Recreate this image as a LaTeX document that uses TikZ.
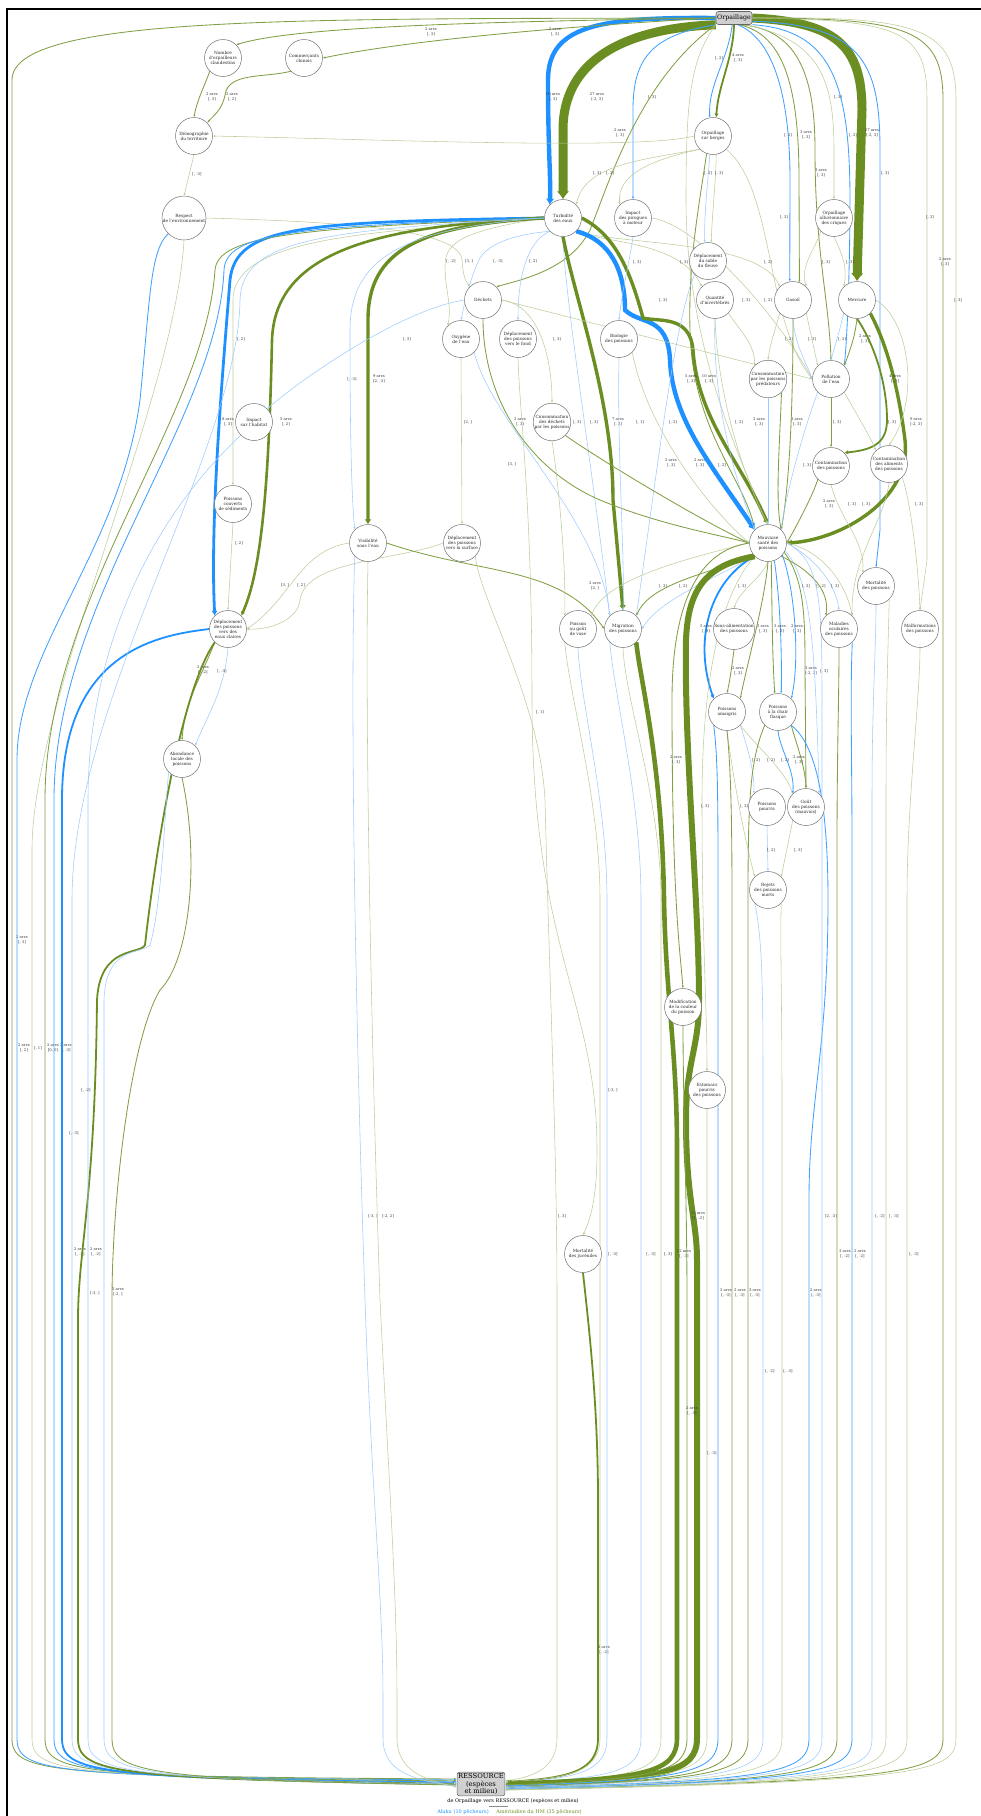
\documentclass[tikz,border=0pt]{standalone}
\usepackage{fontspec}
\setmainfont{DejaVu Serif}
\usetikzlibrary{arrows.meta,calc}
\definecolor{amaD}{HTML}{6B8E23}
\definecolor{amaL}{HTML}{BDCC9B}
\definecolor{aluD}{HTML}{1E90FF}
\definecolor{aluL}{HTML}{9CCBFF}
\definecolor{hubGray}{HTML}{D0D0D0}
\pgfdeclarelayer{edges}
\pgfsetlayers{edges,main}
\tikzset{
 fac/.style={circle,draw=black!55,fill=white,line width=.5pt,inner sep=0pt,minimum size=37pt,align=center,text=black!85,font=\fontsize{4.3}{5}\selectfont},
 hub/.style={rectangle,rounded corners=2.5pt,draw=black!60,fill=hubGray,line width=.6pt,align=center},
 elab/.style={font=\fontsize{3.8}{4.5}\selectfont,align=center,inner sep=.4pt,text=black!80},
 captext/.style={font=\fontsize{5}{6}\selectfont,inner sep=0pt},
 tipS/.style={-{Latex[length=2.6pt,width=2.2pt]}},
 a1/.style={draw=amaL,line width=.55pt,tipS},
 a2/.style={draw=amaD!85,line width=.85pt,tipS},
 a4/.style={draw=amaD,line width=1.8pt,-{Latex[length=4pt,width=4.5pt]}},
 a5/.style={a4,line width=2.6pt},
 a8/.style={draw=amaD,line width=3.4pt,-{Latex[length=5pt,width=7pt]}},
 a12/.style={draw=amaD,line width=4.6pt,-{Latex[length=6pt,width=9pt]}},
 a15/.style={draw=amaD,line width=6pt,-{Latex[length=7pt,width=10pt]}},
 a27/.style={draw=amaD,line width=9pt,-{Latex[length=8pt,width=13pt]}},
 b1/.style={draw=aluL,line width=.55pt,tipS},
 b2/.style={draw=aluD!85,line width=.85pt,tipS},
 b4/.style={draw=aluD,line width=1.8pt,-{Latex[length=4pt,width=4.5pt]}},
 b8/.style={draw=aluD,line width=2.8pt,-{Latex[length=5pt,width=6pt]}},
 b10/.style={draw=aluD,line width=4.4pt,-{Latex[length=6pt,width=8.5pt]}},
 frame/.style={draw=black,line width=1.5pt}
}
\newcommand{\arcs}[2]{#1 arcs\\\relax#2}
\newcommand{\dropL}[5]{\draw[#1] #2 -- (#3,1738) .. controls (#3,1772) and ($(#3,1779)+(30,#4/2)$) .. ($(ress.west)+(0,#4)$) #5;}
\newcommand{\dropR}[5]{\draw[#1] #2 -- (#3,1738) .. controls (#3,1772) and ($(#3,1779)+(-30,#4/2)$) .. ($(ress.east)+(0,#4)$) #5;}

\begin{document}
\begin{tikzpicture}[x=1pt,y=-1pt]
 \useasboundingbox (0,0) rectangle (981,1816);
 \draw[frame] (7,1816) -- (7,9) -- (981,9);

 \node[hub,font=\fontsize{6.3}{7}\selectfont,minimum width=36pt,minimum height=13pt,inner sep=.5pt] (orp) at (734,18) {Orpaillage};
 \node[hub,font=\fontsize{6.8}{7.8}\selectfont,inner sep=1pt] (ress) at (481,1784) {RESSOURCE\\(espèces\\et milieu)};
 \node[fac] (nbr) at (223,58) {Nombre\\d'orpailleurs\\clandestins};
 \node[fac] (com) at (304,58) {Commerçants\\chinois};
 \node[fac] (dem) at (194,136) {Démographie\\du territoire};
 \node[fac,minimum size=44pt] (resp) at (184,218) {Respect\\de l'environnement};
 \node[fac] (berg) at (713,136) {Orpaillage\\sur berges};
 \node[fac] (turb) at (563,218) {Turbidité\\des eaux};
 \node[fac] (pir) at (633,218) {Impact\\des pirogues\\à moteur};
 \node[fac] (allu) at (834,218) {Orpaillage\\alluvionnaire\\des criques};
 \node[fac] (sable) at (708,261) {Déplacement\\du sable\\du fleuve};
 \node[fac] (dech) at (483,300) {Déchets};
 \node[fac] (inv) at (715,300) {Quantité\\d'invertébrés};
 \node[fac] (gas) at (793,300) {Gasoil};
 \node[fac] (merc) at (857,300) {Mercure};
 \node[fac] (oxy) at (461,339) {Oxygène\\de l'eau};
 \node[fac] (fond) at (518,339) {Déplacement\\des poissons\\vers le fond};
 \node[fac] (bio) at (619,339) {Biologie\\des poissons};
 \node[fac] (pred) at (768,379) {Consommation\\par les poissons\\prédateurs};
 \node[fac] (poll) at (831,379) {Pollution\\de l'eau};
 \node[fac] (hab) at (254,422) {Impact\\sur l'habitat};
 \node[fac] (cdech) at (552,422) {Consommation\\des déchets\\par les poissons};
 \node[fac] (contp) at (831,466) {Contamination\\des poissons};
 \node[fac] (conta) at (889,464) {Contamination\\des aliments\\des poissons};
 \node[fac] (sedi) at (233,504) {Poissons\\couverts\\de sédiments};
 \node[fac] (visi) at (368,543) {Visibilité\\sous l'eau};
 \node[fac] (surf) at (462,543) {Déplacement\\des poissons\\vers la surface};
 \node[fac] (sante) at (768,543) {Mauvaise\\santé des\\poissons};
 \node[fac] (mortp) at (876,586) {Mortalité\\des poissons};
 \node[fac] (claires) at (228,629) {Déplacement\\des poissons\\vers des\\eaux claires};
 \node[fac] (vase) at (578,629) {Poisson\\au goût\\de vase};
 \node[fac] (migr) at (623,629) {Migration\\des poissons};
 \node[fac,minimum size=41pt] (sous) at (734,629) {Sous-alimentation\\des poissons};
 \node[fac] (ocul) at (839,629) {Maladies\\oculaires\\des poissons};
 \node[fac] (malf) at (920,629) {Malformations\\des poissons};
 \node[fac] (amaig) at (727,712) {Poissons\\amaigris};
 \node[fac] (flasq) at (778,712) {Poissons\\à la chair\\flasque};
 \node[fac] (abond) at (182,759) {Abondance\\locale des\\poissons};
 \node[fac] (pourr) at (767,807) {Poissons\\pourris};
 \node[fac] (gout) at (806,807) {Goût\\des poissons\\(mauvais)};
 \node[fac] (rejet) at (768,890) {Rejets\\des poissons\\morts};
 \node[fac] (coul) at (683,1007) {Modification\\de la couleur\\du poisson};
 \node[fac] (estom) at (707,1090) {Estomacs\\pourris\\des poissons};
 \node[fac] (juv) at (583,1254) {Mortalité\\des juvéniles};

 \begin{pgfonlayer}{edges}
 \draw[a27] (orp.south west) .. controls (625,28) and (563,60) .. (563,130) -- (turb.north) node[elab] at (597,97) {\arcs{27}{[-2, 3]}};
 \draw[b10] (orp.west) .. controls (600,17) and (548,25) .. (548,80) .. controls (548,150) and (551,180) .. (turb.north west) node[elab] at (553,97) {\arcs{10}{[, 3]}};
 \draw[a27] (orp.east) .. controls (835,22) and (862,45) .. (862,110) -- (merc.north) node[elab] at (872,133) {\arcs{27}{[-2, 3]}};
 \draw[a2] (orp.west) .. controls (450,22) and (290,28) .. (nbr.north east) node[elab] at (431,32) {\arcs{2}{[, 3]}};
 \draw[a2] (orp.west) .. controls (600,24) and (420,38) .. (com.east) node[elab] at (555,32) {\arcs{2}{[, 3]}};
 \dropL{a2}{(orp.west) .. controls (300,19) and (12,15) .. (12,80)}{12}{-5}{node[elab] at (22,940) {\arcs{2}{[, 3]}}}
 \draw[b2] (orp.255) .. controls (728,60) and (708,85) .. (berg.100) node[elab] at (719,58) {[, 2]};
 \draw[a4] (orp.south) .. controls (733,60) and (718,85) .. (berg.80) node[elab] at (738,58) {\arcs{4}{[, 3]}};
 \draw[b2] (orp.south west) .. controls (650,35) and (633,60) .. (633,110) -- (pir.north) node[elab] at (652,97) {[, 3]};
 \draw[a2] (orp.south west) .. controls (640,80) and (610,180) .. (590,230) .. controls (570,270) and (520,280) .. (dech.north east) node[elab] at (620,133) {\arcs{2}{[, 3]}};
 \draw[a1] (orp.south west) .. controls (690,60) and (686,100) .. (686,200) .. controls (686,350) and (745,470) .. (sante.north);
 \draw[b2] (orp.-60) .. controls (775,40) and (790,100) .. (790,180) -- (gas.100) node[elab] at (788,135) {[, 2]};
 \draw[a2] (orp.-50) .. controls (785,35) and (799,90) .. (799,180) -- (gas.70) node[elab] at (806,135) {\arcs{3}{[, 3]}};
 \draw[a2] (orp.-40) .. controls (800,30) and (815,80) .. (815,150) .. controls (815,250) and (829,300) .. (poll.north) node[elab] at (821,173) {\arcs{3}{[, 3]}};
 \draw[a1] (orp.-30) .. controls (820,40) and (834,80) .. (834,150) -- (allu.north) node[elab] at (838,97) {[, 3]};
 \draw[b2] (orp.-20) .. controls (830,30) and (850,80) .. (850,200) .. controls (850,250) and (848,330) .. (poll.north east) node[elab] at (853,135) {[, 2]};
 \draw[b2] (orp.-10) .. controls (860,25) and (880,60) .. (880,150) -- (880,530) -- (mortp.north) node[elab] at (885,173) {[, 3]};
 \draw[a1] (orp.east) .. controls (900,20) and (927,30) .. (927,100) -- (927,560) -- (malf.north) node[elab] at (930,217) {[, 2]};
 \dropR{a2}{(orp.east) .. controls (910,18) and (943,30) .. (943,100)}{943}{5}{node[elab] at (945,262) {\arcs{2}{[, 3]}}}
 \dropR{a1}{(orp.east) .. controls (920,16) and (956,28) .. (956,100)}{956}{6}{node[elab] at (958,300) {[, 3]}}

 \draw[a2] (nbr.south west) .. controls (205,85) and (197,100) .. (dem.north) node[elab] at (212,97) {\arcs{2}{[, 3]}};
 \draw[a2] (com.south west) .. controls (265,78) and (228,72) .. (225,95) .. controls (222,110) and (214,115) .. (dem.north east) node[elab] at (232,97) {\arcs{2}{[, 2]}};
 \draw[a1] (dem.south) -- (resp.north) node[elab] at (197,174) {[, -3]};
 \draw[a1] (berg.west) .. controls (640,150) and (400,140) .. (dem.east);
 \draw[a1] (resp.east) .. controls (350,222) and (460,230) .. (462,260) .. controls (463,275) and (465,280) .. (dech.north west) node[elab] at (469,261) {[3, ]};

 \draw[a1] (berg.south west) .. controls (640,160) and (585,165) .. (turb.north east) node[elab] at (597,173) {[, 3]};
 \draw[a1] (berg.south west) .. controls (650,160) and (617,175) .. (pir.north west) node[elab] at (610,173) {[, 2]};
 \draw[b1] (berg.-100) .. controls (708,180) and (704,215) .. (sable.100) node[elab] at (708,173) {[, 2]};
 \draw[a1] (berg.-80) .. controls (716,180) and (712,215) .. (sable.80) node[elab] at (719,173) {[, 3]};
 \draw[a1] (berg.south east) .. controls (775,190) and (765,320) .. (poll.west) node[elab] at (784,217) {[, 3]};
 \draw[a2] (berg.-110) .. controls (700,200) and (688,260) .. (690,330) .. controls (692,430) and (745,480) .. (sante.north west) node[elab] at (700,463) {\arcs{2}{[, 3]}};

 \draw[a1] (turb.west) .. controls (470,230) and (445,240) .. (445,265) .. controls (445,290) and (452,305) .. (oxy.north west) node[elab] at (451,261) {[, -2]};
 \draw[b1] (turb.south west) .. controls (510,235) and (485,245) .. (478,262) .. controls (470,280) and (465,300) .. (oxy.north) node[elab] at (498,261) {[, -3]};
 \draw[b1] (turb.south west) .. controls (530,240) and (518,270) .. (fond.north) node[elab] at (533,261) {[, 2]};
 \draw[a1] (turb.west) .. controls (400,232) and (233,232) .. (233,300) -- (sedi.north) node[elab] at (241,339) {[, 2]};
 \draw[b8] (turb.west) .. controls (300,222) and (236,226) .. (230,280) .. controls (222,380) and (210,520) .. (claires.north west) node[elab] at (228,422) {\arcs{8}{[, 3]}};
 \draw[a5] (turb.west) .. controls (380,226) and (275,250) .. (272,340) .. controls (269,480) and (262,570) .. (claires.north east) node[elab] at (286,422) {\arcs{5}{[, 2]}};
 \draw[a8] (turb.west) .. controls (420,225) and (368,250) .. (368,320) -- (visi.north) node[elab] at (379,379) {\arcs{9}{[2, -3]}};
 \draw[b1] (turb.west) .. controls (400,228) and (350,260) .. (350,330) .. controls (350,450) and (352,500) .. (visi.north west) node[elab] at (352,379) {[, -3]};
 \draw[a1] (turb.south east) .. controls (600,243) and (680,240) .. (inv.north west) node[elab] at (684,262) {[, 3]};
 \draw[a1] (turb.south east) .. controls (620,245) and (760,240) .. (gas.north west) node[elab] at (768,262) {[, 2]};
 \draw[b1] (turb.south) .. controls (565,300) and (590,450) .. (migr.north west) node[elab] at (577,422) {[, 3]};
 \draw[a8] (turb.south) .. controls (575,300) and (613,400) .. (613,500) -- (migr.north) node[elab] at (618,422) {\arcs{7}{[, 3]}};
 \draw[b10] (turb.south east) .. controls (610,240) and (625,270) .. (625,310) .. controls (640,325) and (668,315) .. (670,360) .. controls (672,420) and (715,470) .. (sante.north west) node[elab] at (709,379) {\arcs{10}{[, 3]}};
 \draw[a8] (turb.east) .. controls (615,235) and (630,270) .. (643,318) .. controls (660,322) and (690,315) .. (693,350) .. controls (698,420) and (740,460) .. (sante.north) node[elab] at (691,379) {\arcs{5}{[, 3]}};

 \draw[b1] (dech.west) .. controls (400,310) and (300,380) .. (hab.north east) node[elab] at (407,339) {[, 3]};
 \draw[a1] (dech.east) .. controls (540,305) and (552,360) .. (cdech.north) node[elab] at (557,339) {[, 3]};
 \draw[a2] (dech.south) .. controls (483,400) and (530,470) .. (600,500) .. controls (660,525) and (720,535) .. (sante.west) node[elab] at (520,422) {\arcs{2}{[, 3]}};
 \draw[a1] (dech.east) -- (poll.west);
 \draw[b1] (pir.south) .. controls (630,260) and (622,290) .. (bio.north) node[elab] at (637,262) {[, 3]};
 \draw[a1] (pir.east) .. controls (700,225) and (780,320) .. (poll.west);
 \draw[b1] (sable.south west) .. controls (675,320) and (660,450) .. (migr.north east) node[elab] at (663,300) {[, 3]};
 \draw[a1] (allu.south west) .. controls (815,250) and (800,265) .. (gas.north east) node[elab] at (826,262) {[, 3]};
 \draw[a1] (allu.south) .. controls (840,250) and (848,265) .. (merc.north west) node[elab] at (850,262) {[, 3]};

 \draw[a1] (inv.south east) .. controls (740,330) and (755,345) .. (pred.north west) node[elab] at (746,300) {[, 3]};
 \draw[a1] (gas.south west) .. controls (775,330) and (770,345) .. (pred.north) node[elab] at (768,300) {[, 2]};
 \draw[a1] (gas.south east) -- (poll.north west) node[elab] at (812,339) {[, 3]};
 \draw[b1] (gas.south) .. controls (795,345) and (805,360) .. (poll.west) node[elab] at (789,339) {[, 2]};
 \draw[a2] (gas.south) .. controls (793,400) and (790,480) .. (sante.north east) node[elab] at (797,422) {\arcs{3}{[, 3]}};
 \draw[a2] (merc.south) .. controls (855,335) and (852,345) .. (poll.north east) node[elab] at (865,339) {\arcs{2}{[, 3]}};
 \draw[b1] (merc.south west) .. controls (840,330) and (835,345) .. (poll.north) node[elab] at (842,339) {[, 2]};
 \draw[a8] (merc.south east) .. controls (890,350) and (900,400) .. (905,440) .. controls (912,500) and (840,540) .. (sante.east) node[elab] at (916,422) {\arcs{9}{[-2, 3]}};
 \draw[a4] (merc.south) .. controls (872,340) and (887,380) .. (887,420) .. controls (887,445) and (870,450) .. (contp.north east) node[elab] at (895,379) {\arcs{4}{[, 3]}};
 \draw[a1] (merc.east) .. controls (910,320) and (920,400) .. (conta.north);
 \draw[a2] (poll.south) -- (contp.north) node[elab] at (837,422) {[, 3]};
 \draw[a1] (poll.south east) .. controls (860,420) and (872,440) .. (conta.north west) node[elab] at (892,422) {[, 3]};
 \draw[b1] (poll.south west) .. controls (800,440) and (785,500) .. (sante.north east) node[elab] at (807,465) {[, 3]};
 \draw[a2] (contp.south west) .. controls (815,490) and (800,520) .. (sante.east) node[elab] at (829,504) {\arcs{2}{[, 3]}};
 \draw[a1] (contp.south) .. controls (840,520) and (865,540) .. (mortp.north west) node[elab] at (852,504) {[, 3]};
 \draw[a1] (conta.south east) .. controls (910,500) and (918,560) .. (malf.north) node[elab] at (919,504) {[, 3]};
 \draw[a1] (conta.south) .. controls (885,520) and (850,560) .. (ocul.north east) node[elab] at (866,504) {[, 3]};

 \draw[a1] (oxy.south) -- (surf.north) node[elab] at (468,422) {[2, ]};
 \draw[b1] (oxy.south east) .. controls (490,420) and (600,520) .. (migr.north west) node[elab] at (512,464) {[3, ]};
 \draw[a1] (sedi.south) -- (claires.north) node[elab] at (239,543) {[, 2]};
 \draw[a1] (visi.west) .. controls (300,550) and (290,600) .. (claires.east) node[elab] at (285,585) {[3, ]};
 \draw[a1] (surf.west) .. controls (400,560) and (305,560) .. (300,600) .. controls (298,620) and (270,630) .. (claires.east) node[elab] at (301,585) {[, 2]};
 \draw[a2] (visi.east) .. controls (480,575) and (560,565) .. (migr.west) node[elab] at (595,586) {\arcs{2}{[2, ]}};
 \draw[a1] (cdech.south) .. controls (558,480) and (566,560) .. (vase.north west);
 \draw[a2] (cdech.south east) .. controls (600,460) and (700,520) .. (sante.west) node[elab] at (671,463) {\arcs{2}{[, 3]}};
 \draw[a1] (bio.south east) .. controls (645,420) and (700,500) .. (sante.west) node[elab] at (640,422) {[, 1]};
 \draw[b1] (bio.south) .. controls (617,450) and (625,560) .. (migr.north) node[elab] at (594,422) {[, 3]};
 \draw[b1] (inv.south) .. controls (712,400) and (735,480) .. (sante.north west) node[elab] at (673,422) {[, 2]};
 \draw[a1] (inv.south) .. controls (718,400) and (745,480) .. (sante.north) node[elab] at (722,465) {[, 2]};
 \draw[b1] (pred.south) -- (sante.north) node[elab] at (739,422) {[, 2]};
 \draw[a2] (pred.south east) .. controls (780,440) and (775,500) .. (sante.north east) node[elab] at (759,422) {\arcs{2}{[, 3]}};
 \draw[a1] (fond.south) .. controls (520,420) and (532,500) .. (532,700) .. controls (532,950) and (597,1000) .. (597,1150) .. controls (597,1200) and (590,1220) .. (juv.north) node[elab] at (540,712) {[, 1]};

 \draw[a1] (sante.west) .. controls (680,560) and (605,580) .. (vase.north east);
 \draw[a2] (sante.south west) .. controls (700,575) and (650,585) .. (migr.north east) node[elab] at (663,586) {[, 3]};
 \draw[b1] (sante.south west) .. controls (710,580) and (660,600) .. (migr.east) node[elab] at (683,586) {[, 2]};
 \draw[a1] (sante.south) .. controls (760,580) and (740,590) .. (sous.north) node[elab] at (742,586) {[, 3]};
 \draw[b4] (sante.south west) .. controls (710,580) and (693,640) .. (amaig.north west) node[elab] at (706,629) {\arcs{2}{[, 3]}};
 \draw[a2] (sante.south) .. controls (765,600) and (748,660) .. (amaig.north east);
 \draw[a2] (sante.-80) .. controls (772,600) and (772,650) .. (flasq.100) node[elab] at (763,629) {\arcs{3}{[, 3]}};
 \draw[b2] (sante.-70) .. controls (780,600) and (782,650) .. (flasq.80) node[elab] at (780,629) {\arcs{3}{[, 3]}};
 \draw[b2] (sante.-40) .. controls (795,590) and (800,660) .. (flasq.north east) node[elab] at (797,629) {\arcs{2}{[, 3]}};
 \draw[a2] (sante.-30) .. controls (805,580) and (805,620) .. (805,670) -- (gout.north) node[elab] at (811,671) {\arcs{3}{[-2, 3]}};
 \draw[b1] (sante.-25) .. controls (812,580) and (815,650) .. (gout.north east) node[elab] at (824,671) {[, 3]};
 \draw[a2] (sante.south east) .. controls (810,570) and (830,590) .. (ocul.north west) node[elab] at (806,586) {[, 3]};
 \draw[b1] (sante.east) .. controls (810,555) and (835,580) .. (ocul.north) node[elab] at (821,586) {[, -2]};
 \draw[a1] (sante.east) .. controls (820,550) and (845,580) .. (ocul.north east) node[elab] at (835,586) {[, 3]};
 \draw[a2] (sante.west) .. controls (700,550) and (672,600) .. (672,700) .. controls (672,900) and (680,950) .. (coul.north) node[elab] at (676,760) {\arcs{2}{[, 3]}};
 \draw[a1] (sante.south west) .. controls (715,600) and (702,700) .. (702,800) .. controls (702,950) and (707,1000) .. (estom.north) node[elab] at (705,806) {[, 3]};
 \draw[a2] (sous.south) .. controls (732,665) and (730,680) .. (amaig.north) node[elab] at (738,671) {\arcs{2}{[, 3]}};
 \draw[b1] (amaig.south east) .. controls (745,740) and (755,770) .. (pourr.north west) node[elab] at (756,760) {[, 2]};
 \draw[a1] (amaig.south east) .. controls (755,745) and (785,770) .. (gout.north west) node[elab] at (771,760) {[, 2]};
 \draw[b2] (flasq.south) .. controls (780,750) and (795,770) .. (gout.north west) node[elab] at (785,760) {[, 2]};
 \draw[a2] (flasq.south east) .. controls (795,740) and (805,765) .. (gout.north) node[elab] at (799,760) {\arcs{2}{[, 3]}};
 \draw[a1] (amaig.south) .. controls (735,790) and (745,840) .. (rejet.north west) node[elab] at (744,806) {[, 3]};
 \draw[b1] (pourr.south) -- (rejet.north) node[elab] at (771,850) {[, 2]};
 \draw[a1] (gout.south west) -- (rejet.north east) node[elab] at (798,850) {[, 3]};
 \draw[a2] (claires.south west) .. controls (200,680) and (185,700) .. (abond.north) node[elab] at (203,670) {\arcs{2}{[, -2]}};
 \draw[b1] (claires.south) .. controls (225,690) and (205,720) .. (abond.north east) node[elab] at (222,671) {[, -3]};

 \dropL{b2}{(resp.south west) .. controls (150,250) and (150,300) .. (140,400) .. controls (120,550) and (17,650) .. (17,760)}{17}{-4}{node[elab] at (24,1048) {\arcs{2}{[, 2]}}}
 \dropL{a1}{(resp.south) .. controls (175,400) and (32,700) .. (32,850)}{32}{-3}{node[elab] at (38,1048) {[, 1]}}
 \dropL{a2}{(turb.west) .. controls (300,228) and (218,235) .. (215,270) .. controls (205,420) and (45,600) .. (45,800)}{45}{-3}{node[elab] at (53,1048) {\arcs{2}{[0, 0]}}}
 \dropL{b2}{(turb.west) .. controls (300,226) and (226,232) .. (224,270) .. controls (218,420) and (54,600) .. (54,800)}{54}{-2}{node[elab] at (66,1048) {\arcs{2}{[, -3]}}}
 \dropL{b4}{(claires.west) .. controls (160,635) and (62,650) .. (62,800)}{62}{-1}{node[elab] at (80,1252) {\arcs{2}{[, -3]}}}
 \dropL{b1}{(turb.west) .. controls (320,230) and (242,240) .. (240,300) .. controls (238,450) and (72,700) .. (72,900)}{72}{-1}{node[elab] at (74,1133) {[, -3]}}
 \dropL{a4}{(claires.south west) .. controls (175,700) and (150,900) .. (145,945) .. controls (140,955) and (100,945) .. (97,1000) .. controls (95,1200) and (78,1250) .. (78,1320)}{78}{0}{node[elab] at (96,1252) {\arcs{2}{[, -2]}}}
 \dropL{b1}{(hab.south west) .. controls (150,520) and (88,650) .. (88,800)}{88}{0}{node[elab] at (86,1090) {[, -2]}}
 \dropL{b1}{(abond.south west) .. controls (165,800) and (163,900) .. (150,945) .. controls (140,955) and (106,945) .. (104,1000)}{104}{1}{node[elab] at (95,1293) {[-3, ]}}
 \dropL{a2}{(abond.south) .. controls (200,860) and (190,960) .. (160,990) .. controls (130,1040) and (112,1200) .. (112,1300)}{112}{1}{node[elab] at (118,1292) {\arcs{2}{[-2, ]}}}
 \dropL{b1}{(visi.south west) .. controls (350,700) and (355,1000) .. (365,1300) .. controls (372,1500) and (383,1600) .. (383,1700)}{383}{2}{node[elab] at (373,1216) {[-3, ]}}
 \dropL{a1}{(visi.south) .. controls (365,700) and (370,1000) .. (380,1300) .. controls (390,1500) and (397,1600) .. (397,1700)}{397}{3}{node[elab] at (388,1216) {[-2, 2]}}

 \dropR{a1}{(surf.south east) .. controls (480,600) and (540,700) .. (545,800) .. controls (550,1000) and (557,1150) .. (557,1300)}{557}{-3}{node[elab] at (562,1216) {[, 3]}}
 \dropR{a4}{(juv.south) .. controls (588,1320) and (598,1400) .. (598,1500)}{598}{-2}{node[elab] at (604,1650) {\arcs{4}{[, -2]}}}
 \dropR{a1}{(vase.south west) .. controls (570,700) and (600,800) .. (600,900)}{600}{-2}{node[elab] at (613,1090) {[-3, ]}}
 \dropR{b1}{(vase.south) .. controls (580,700) and (607,800) .. (607,900)}{607}{-1}{node[elab] at (613,1254) {[, -3]}}
 \dropR{b1}{(migr.south west) .. controls (615,700) and (641,800) .. (641,900)}{641}{-1}{node[elab] at (651,1254) {[, -3]}}
 \dropR{a1}{(migr.south) .. controls (625,700) and (661,800) .. (661,900)}{661}{0}{node[elab] at (668,1254) {[, 3]}}
 \dropR{a12}{(migr.south east) .. controls (640,680) and (662,760) .. (664,900) .. controls (666,1000) and (677,1050) .. (677,1150)}{677}{0}{node[elab] at (684,1254) {\arcs{12}{[, -3]}}}
 \dropR{a15}{(sante.south west) .. controls (705,565) and (688,590) .. (686,640) .. controls (684,750) and (699,900) .. (699,1000) .. controls (699,1050) and (686,1060) .. (686,1120) .. controls (686,1200) and (697,1220) .. (697,1260)}{697}{1}{node[elab] at (698,1216) {\arcs{15}{[1, -2]}}}
 \dropR{a2}{(coul.south) .. controls (683,1100) and (687,1200) .. (687,1300)}{687}{1}{node[elab] at (692,1411) {\arcs{2}{[, -3]}}}
 \dropR{a1}{(estom.south) .. controls (707,1200) and (707,1300) .. (707,1400)}{707}{2}{node[elab] at (712,1453) {[, -3]}}
 \dropR{b2}{(amaig.south west) .. controls (718,760) and (718,800) .. (718,900)}{718}{2}{node[elab] at (726,1293) {\arcs{2}{[, -3]}}}
 \dropR{a2}{(amaig.south) .. controls (730,760) and (732,800) .. (732,900)}{732}{3}{node[elab] at (740,1293) {\arcs{2}{[, -3]}}}
 \dropR{a2}{(flasq.south west) .. controls (750,760) and (748,800) .. (748,900)}{748}{3}{node[elab] at (755,1293) {\arcs{3}{[, -3]}}}
 \dropR{b1}{(rejet.south west) .. controls (763,940) and (763,1000) .. (763,1100)}{763}{3}{node[elab] at (770,1371) {[, -2]}}
 \dropR{a1}{(rejet.south east) .. controls (780,940) and (782,1000) .. (782,1100)}{782}{4}{node[elab] at (788,1371) {[, -3]}}
 \dropR{b2}{(flasq.south east) .. controls (810,740) and (828,780) .. (828,900) .. controls (828,1050) and (809,1100) .. (809,1200)}{809}{4}{node[elab] at (816,1293) {\arcs{2}{[, -3]}}}
 \dropR{b1}{(sante.east) .. controls (820,560) and (822,600) .. (822,700)}{822}{4}{node[elab] at (831,1216) {[2, -3]}}
 \dropR{a2}{(ocul.south) .. controls (839,700) and (837,750) .. (837,850)}{837}{5}{node[elab] at (845,1254) {\arcs{3}{[, -2]}}}
 \dropR{b2}{(ocul.south east) .. controls (850,700) and (852,750) .. (852,850)}{852}{5}{node[elab] at (860,1254) {\arcs{2}{[, -2]}}}
 \dropR{b1}{(mortp.south) .. controls (876,650) and (872,700) .. (872,800)}{872}{5}{node[elab] at (880,1216) {[, -2]}}
 \dropR{a1}{(mortp.south east) .. controls (888,650) and (886,700) .. (886,800)}{886}{6}{node[elab] at (894,1216) {[, -3]}}
 \dropR{a1}{(malf.south) .. controls (920,700) and (907,800) .. (907,900)}{907}{6}{node[elab] at (914,1254) {[, -3]}}
 \end{pgfonlayer}

 \node[captext] (ttl) at (513,1801) {de Orpaillage vers RESSOURCE (espèces et milieu)};
 \draw[black!45,line width=.4pt] (489,1806) -- (508,1806);
 \node[captext,text=aluD] (lgAlu) at (463,1812) {Aluku (10 pêcheurs)};
 \node[captext,text=amaD] (lgAma) at (539,1812) {Amérindien du HM (35 pêcheurs)};
\end{tikzpicture}
\end{document}
